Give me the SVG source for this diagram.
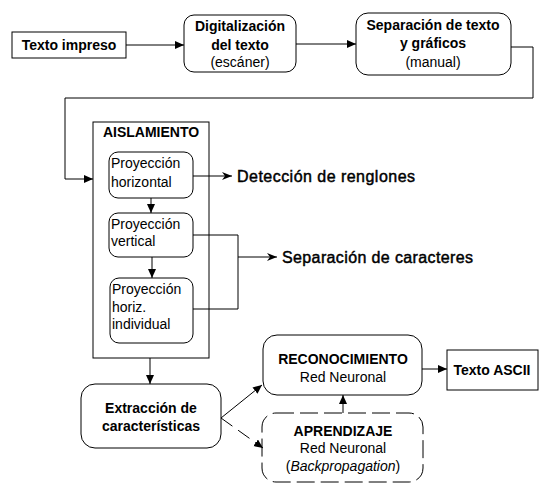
<svg xmlns="http://www.w3.org/2000/svg" width="553" height="495" viewBox="0 0 553 495">
<style>
.box{fill:#fff;stroke:#000;stroke-width:1}
.dash{fill:#fff;stroke:#000;stroke-width:1;stroke-dasharray:18 6}
.b{font-family:"Liberation Sans",Arial,sans-serif;font-size:14px;font-weight:bold;text-anchor:middle}
.r{font-family:"Liberation Sans",Arial,sans-serif;font-size:14px;text-anchor:middle}
.l{font-family:"Liberation Sans",Arial,sans-serif;font-size:14px}
.big{font-family:"Liberation Sans",Arial,sans-serif;font-size:16px;stroke:#000;stroke-width:0.45}
.c{fill:none;stroke:#000;stroke-width:1}
</style>
<defs>
<marker id="arr" markerUnits="userSpaceOnUse" markerWidth="10" markerHeight="10" refX="9" refY="4" orient="auto">
<path d="M0,0 L9,4 L0,8 z" fill="#000"/>
</marker>
<marker id="st" markerUnits="userSpaceOnUse" markerWidth="12" markerHeight="10" refX="10" refY="4" orient="auto">
<path d="M0,0 L10,4 L0,8 L3,4 z" fill="#000"/>
</marker>
</defs>
<g id="texto-impreso">
<rect class="box" x="12" y="32" width="114" height="26"/>
<text class="b" x="69" y="50">Texto impreso</text>
</g>
<g id="digitalizacion">
<rect class="box" x="184" y="15" width="112" height="57" rx="10"/>
<text class="b" x="240" y="31">Digitalización</text>
<text class="b" x="240" y="50">del texto</text>
<text class="r" x="240" y="67">(escáner)</text>
</g>
<g id="separacion">
<rect class="box" x="356" y="13" width="155" height="62" rx="12"/>
<text class="b" x="433" y="30">Separación de texto</text>
<text class="b" x="433" y="48">y gráficos</text>
<text class="r" x="433" y="67">(manual)</text>
</g>
<g id="aislamiento">
<rect class="box" x="93" y="122" width="116" height="236"/>
<text class="b" x="151" y="137">AISLAMIENTO</text>
</g>
<g id="proy-horizontal">
<rect class="box" x="109" y="152" width="84" height="46" rx="9"/>
<text class="l" x="111" y="168">Proyección</text>
<text class="l" x="111" y="187">horizontal</text>
</g>
<g id="deteccion">
<text class="big" x="237" y="182" textLength="178">Detección de renglones</text>
</g>
<g id="proy-vertical">
<rect class="box" x="109" y="213" width="84" height="44" rx="9"/>
<text class="l" x="111" y="229">Proyección</text>
<text class="l" x="111" y="246">vertical</text>
</g>
<g id="proy-individual">
<rect class="box" x="110" y="278" width="83" height="65" rx="9"/>
<text class="l" x="112" y="294">Proyección</text>
<text class="l" x="112" y="312">horiz.</text>
<text class="l" x="112" y="329">individual</text>
</g>
<g id="separacion-caracteres">
<text class="big" x="282" y="263" textLength="191">Separación de caracteres</text>
</g>
<g id="extraccion">
<rect class="box" x="81" y="384" width="140" height="64" rx="14"/>
<text class="b" x="151" y="413">Extracción de</text>
<text class="b" x="151" y="431">características</text>
</g>
<g id="reconocimiento">
<rect class="box" x="263" y="335" width="159" height="60" rx="14"/>
<text class="b" x="343" y="364">RECONOCIMIENTO</text>
<text class="r" x="343" y="382">Red Neuronal</text>
</g>
<g id="texto-ascii">
<rect class="box" x="447" y="350" width="91" height="40"/>
<text class="b" x="492" y="375">Texto ASCII</text>
</g>
<g id="aprendizaje">
<rect class="dash" x="262" y="413" width="161" height="69" rx="14"/>
<text class="b" x="343" y="436">APRENDIZAJE</text>
<text class="r" x="343" y="453">Red Neuronal</text>
<text class="r" x="343" y="471">(<tspan font-style="italic">Backpropagation</tspan>)</text>
</g>
<g id="connectors">
<line class="c" x1="126" y1="45" x2="184" y2="45" marker-end="url(#arr)"/>
<line class="c" x1="296" y1="44" x2="356" y2="44" marker-end="url(#arr)"/>
<polyline class="c" points="511,47 533,47 533,98 65,98 65,179 93,179" marker-end="url(#arr)"/>
<line class="c" x1="193" y1="176" x2="232" y2="176" marker-end="url(#st)"/>
<line class="c" x1="151" y1="198" x2="151" y2="213" marker-end="url(#arr)"/>
<line class="c" x1="152" y1="257" x2="152" y2="278" marker-end="url(#arr)"/>
<polyline class="c" points="193,235 238,235 238,309 193,309"/>
<line class="c" x1="238" y1="257" x2="277" y2="257" marker-end="url(#st)"/>
<line class="c" x1="150" y1="358" x2="150" y2="384" marker-end="url(#arr)"/>
<line class="c" x1="221" y1="418" x2="262" y2="385" marker-end="url(#arr)"/>
<line class="c" x1="221" y1="418" x2="263" y2="448" stroke-dasharray="14 7" marker-end="url(#arr)"/>
<line class="c" x1="343" y1="413" x2="343" y2="395" marker-end="url(#arr)"/>
<line class="c" x1="422" y1="369" x2="447" y2="369" marker-end="url(#arr)"/>
</g>
</svg>
